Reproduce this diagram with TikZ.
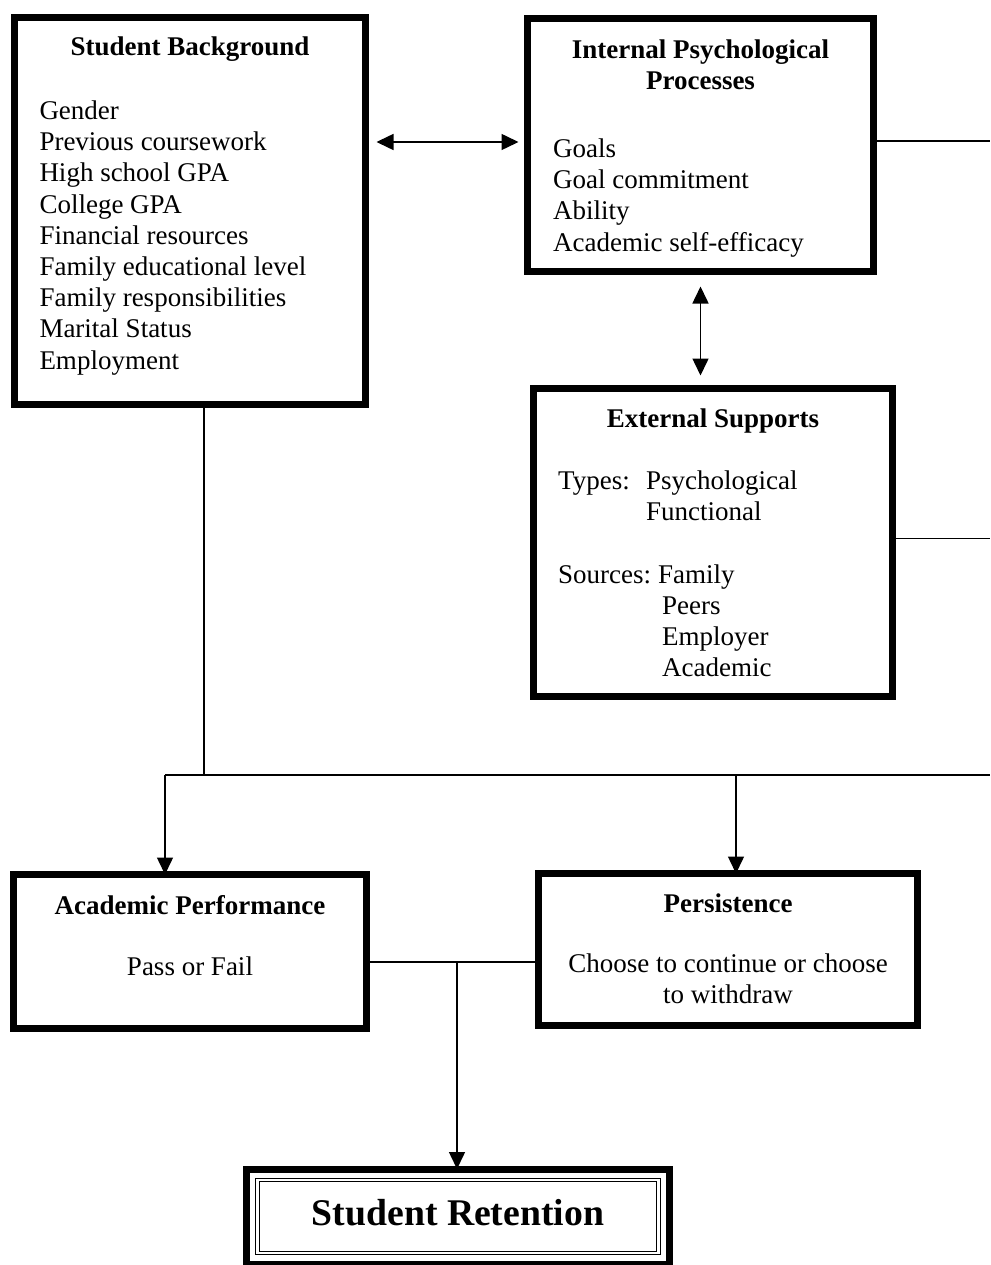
\documentclass[tikz,border=0pt]{standalone}
\usepackage{fontspec}
\setmainfont{Liberation Serif}
\usetikzlibrary{arrows.meta}
\begin{document}
\begin{tikzpicture}[x=1pt,y=-1pt,
  box/.style={draw=black,line width=7pt,inner sep=0pt,outer sep=0pt},
  txt/.style={inner sep=0pt,font=\fontsize{27}{31.2}\selectfont},
  hdr/.style={inner sep=0pt,font=\fontsize{27}{31.2}\selectfont\bfseries},
  conn/.style={line width=1.5pt},
  tip/.style={-{Triangle[length=17pt,width=16pt]}},
  both/.style={{Triangle[length=17pt,width=16pt]}-{Triangle[length=17pt,width=16pt]}}]
\useasboundingbox (0,0) rectangle (990,1265);
% boxes
\node[box,minimum width=351pt,minimum height=387pt] (sb) at (190,211) {};
\node[box,minimum width=346pt,minimum height=253pt] (ipp) at (700.5,145) {};
\node[box,minimum width=359pt,minimum height=308pt] (es) at (713,542.5) {};
\node[box,minimum width=353pt,minimum height=154pt] (ap) at (190,951.5) {};
\node[box,minimum width=379pt,minimum height=152pt] (pe) at (728,949.5) {};
\node[box,line width=7pt,minimum width=423pt,minimum height=95pt] (sr) at (458,1216.5) {};
\draw[line width=1.2pt,double,double distance=2.2pt]
  ([xshift=11pt,yshift=-11pt]sr.north west) rectangle ([xshift=-11pt,yshift=11pt]sr.south east);
% texts
\node[hdr,anchor=base] (sbh) at (190,56) {Student Background};
\node[txt,anchor=north west,align=left] (sbt) at (39.3,100.6) {Gender\\Previous coursework\\High school GPA\\College GPA\\Financial resources\\Family educational level\\Family responsibilities\\Marital Status\\Employment};
\node[hdr,anchor=north,align=center] (ipph) at (700.5,39.6) {Internal Psychological\\Processes};
\node[txt,anchor=north west,align=left] (ippt) at (553,138.6) {Goals\\Goal commitment\\Ability\\Academic self-efficacy};
\node[hdr,anchor=base] (esh) at (713,427) {External Supports};
\node[txt,anchor=north west,align=left] (est) at (558,470.6) {\makebox[88pt][l]{Types:}Psychological\\\hspace*{88pt}Functional\\[31.2pt]\makebox[100pt][l]{Sources:}Family\\\hspace*{104pt}Peers\\\hspace*{104pt}Employer\\\hspace*{104pt}Academic};
\node[hdr,anchor=base] (aph) at (190,914) {Academic Performance};
\node[txt,anchor=base] (apt) at (190,975) {Pass or Fail};
\node[hdr,anchor=base] (peh) at (728,912) {Persistence};
\node[txt,anchor=north,align=center] (pet) at (728,953.6) {Choose to continue or choose\\to withdraw};
\node[inner sep=0pt,font=\fontsize{37.7}{40}\selectfont\bfseries,anchor=base] (srt) at (458,1225) {Student Retention};
% connectors
\coordinate (edge) at (990,0);
\coordinate (bl) at (165,775);
\coordinate (br) at (990,775);
\coordinate (bsb) at (204,775);
\coordinate (bpe) at (736,775);
\coordinate (m) at (457,962);
\draw[conn,both,shorten <=11pt,shorten >=9pt] ([yshift=3pt]sb.east |- ipp.west) -- ([yshift=3pt]ipp.west);
\draw[conn,both,shorten <=15pt,shorten >=13pt] (ipp.south) -- (ipp.south |- es.north);
\draw[conn] ([yshift=4pt]ipp.east) -- ([yshift=4pt]ipp.east -| edge);
\draw[conn] ([yshift=4pt]es.east) -- ([yshift=4pt]es.east -| edge);
\draw[conn] (sb.south -| bsb) -- (bsb);
\draw[conn] (bl) -- (br);
\draw[conn,tip] (bl) -- (bl |- ap.north);
\draw[conn,tip] (bpe) -- (bpe |- pe.north);
\draw[conn] (ap.east |- m) -- (pe.west |- m);
\draw[conn,tip] (m) -- (m |- sr.north);
\end{tikzpicture}
\end{document}
